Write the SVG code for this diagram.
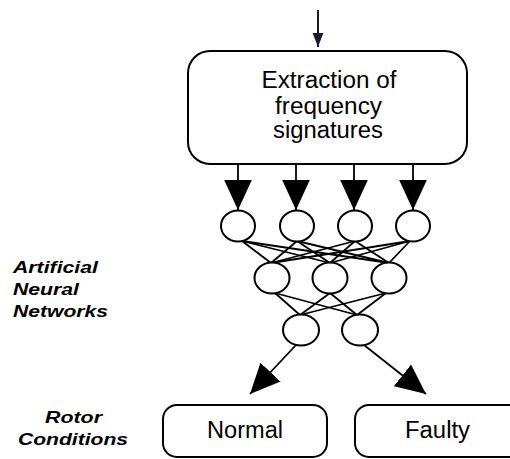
<svg xmlns="http://www.w3.org/2000/svg" width="510" height="459" viewBox="0 0 510 459">
<style>
.box{fill:#fff;stroke:#000;stroke-width:2}
.neuron{fill:#fff;stroke:#000;stroke-width:2}
.ln{stroke:#000;stroke-width:1.8;fill:none}
.t{font-family:"Liberation Sans",Arial,sans-serif;font-size:23px;fill:#000;text-anchor:middle}
.lbl{font-family:"Liberation Sans",Arial,sans-serif;font-size:17px;font-weight:bold;font-style:italic;fill:#000}
</style>
<defs>
<marker id="big" markerUnits="userSpaceOnUse" markerWidth="30" markerHeight="30" viewBox="0 0 26 24" refX="26" refY="12" orient="auto">
<path d="M0,0 L26,12 L0,24 Z" fill="#000"/>
</marker>
<marker id="small" markerUnits="userSpaceOnUse" markerWidth="14" markerHeight="12" viewBox="0 0 13 10" refX="13" refY="5" orient="auto">
<path d="M0,0 L13,5 L0,10 Z" fill="#1a1a33"/>
</marker>
</defs>
<g id="connectors">
<line class="ln" x1="318" y1="10" x2="318" y2="47" stroke="#1a1a33" marker-end="url(#small)"/>
<line class="ln" x1="238" y1="164" x2="238" y2="210" marker-end="url(#big)"/>
<line class="ln" x1="296" y1="164" x2="296" y2="210" stroke-width="1.2" marker-end="url(#big)"/>
<line class="ln" x1="354" y1="164" x2="354" y2="210" marker-end="url(#big)"/>
<line class="ln" x1="413" y1="164" x2="413" y2="210" marker-end="url(#big)"/>
<g id="layer1to2">
<line class="ln" x1="242" y1="241" x2="271" y2="263"/>
<line class="ln" x1="242" y1="241" x2="330" y2="263"/>
<line class="ln" x1="242" y1="241" x2="389" y2="263"/>
<line class="ln" x1="297" y1="241" x2="271" y2="263"/>
<line class="ln" x1="297" y1="241" x2="330" y2="263"/>
<line class="ln" x1="297" y1="241" x2="389" y2="263"/>
<line class="ln" x1="355" y1="241" x2="271" y2="263"/>
<line class="ln" x1="355" y1="241" x2="330" y2="263"/>
<line class="ln" x1="355" y1="241" x2="389" y2="263"/>
<line class="ln" x1="410" y1="241" x2="271" y2="263"/>
<line class="ln" x1="410" y1="241" x2="330" y2="263"/>
<line class="ln" x1="410" y1="241" x2="389" y2="263"/>
</g>
<g id="layer2to3">
<line class="ln" x1="275" y1="293" x2="300" y2="315"/>
<line class="ln" x1="275" y1="293" x2="357" y2="315"/>
<line class="ln" x1="330" y1="293" x2="300" y2="315"/>
<line class="ln" x1="330" y1="293" x2="357" y2="315"/>
<line class="ln" x1="386" y1="293" x2="300" y2="315"/>
<line class="ln" x1="386" y1="293" x2="357" y2="315"/>
</g>
<line class="ln" x1="296" y1="345" x2="250" y2="394" marker-end="url(#big)"/>
<line class="ln" x1="364" y1="345" x2="426" y2="394" marker-end="url(#big)"/>
</g>
<g id="extraction">
<rect class="box" x="188" y="51" width="279" height="113" rx="22"/>
<text class="t" x="329" y="88" textLength="135" lengthAdjust="spacingAndGlyphs">Extraction of</text>
<text class="t" x="328.5" y="114" textLength="107" lengthAdjust="spacingAndGlyphs">frequency</text>
<text class="t" x="328" y="138" textLength="110" lengthAdjust="spacingAndGlyphs">signatures</text>
</g>
<g id="n1"><ellipse class="neuron" cx="238" cy="226" rx="17" ry="15.5"/></g>
<g id="n2"><ellipse class="neuron" cx="297" cy="226" rx="17" ry="15.5"/></g>
<g id="n3"><ellipse class="neuron" cx="355" cy="226" rx="17" ry="15.5"/></g>
<g id="n4"><ellipse class="neuron" cx="413" cy="226" rx="17" ry="15.5"/></g>
<g id="n5"><ellipse class="neuron" cx="272" cy="278" rx="17.5" ry="15.5"/></g>
<g id="n6"><ellipse class="neuron" cx="330" cy="278" rx="17.5" ry="15.5"/></g>
<g id="n7"><ellipse class="neuron" cx="389" cy="278" rx="17.5" ry="15.5"/></g>
<g id="n8"><ellipse class="neuron" cx="301" cy="330" rx="18" ry="15.5"/></g>
<g id="n9"><ellipse class="neuron" cx="360" cy="330" rx="18" ry="15.5"/></g>
<g id="normal">
<rect class="box" x="163" y="405" width="164" height="52" rx="14"/>
<text class="t" x="245" y="438" font-size="21" textLength="76" lengthAdjust="spacingAndGlyphs">Normal</text>
</g>
<g id="faulty">
<rect class="box" x="355" y="405" width="170" height="52" rx="14"/>
<text class="t" x="437.5" y="438" font-size="21" textLength="65" lengthAdjust="spacingAndGlyphs">Faulty</text>
</g>
<g id="labels">
<text class="lbl" x="13" y="273" textLength="85" lengthAdjust="spacingAndGlyphs">Artificial</text>
<text class="lbl" x="13" y="295" textLength="66" lengthAdjust="spacingAndGlyphs">Neural</text>
<text class="lbl" x="13" y="317" textLength="95" lengthAdjust="spacingAndGlyphs">Networks</text>
<text class="lbl" x="73.5" y="423" text-anchor="middle" textLength="57" lengthAdjust="spacingAndGlyphs">Rotor</text>
<text class="lbl" x="73" y="445" text-anchor="middle" textLength="110" lengthAdjust="spacingAndGlyphs">Conditions</text>
</g>
</svg>
